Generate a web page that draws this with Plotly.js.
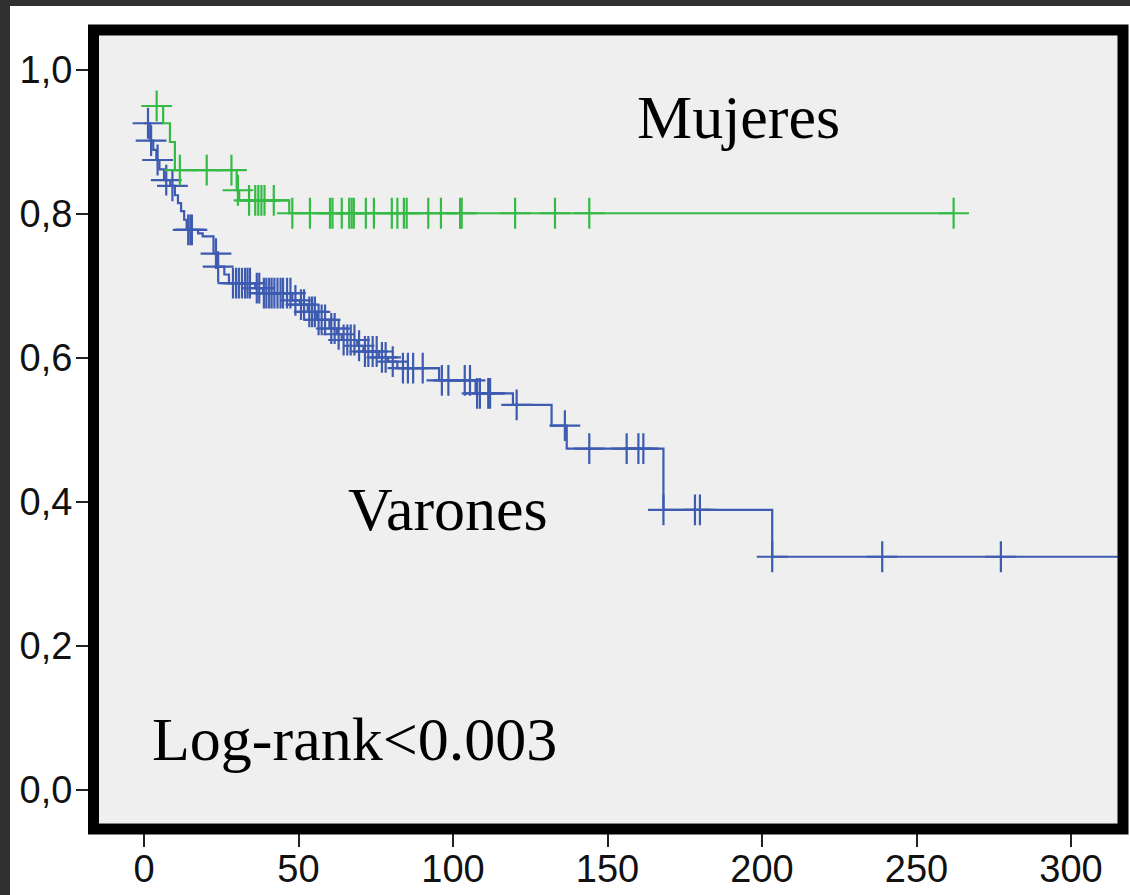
<!DOCTYPE html>
<html>
<head>
<meta charset="utf-8">
<script src="https://cdn.plot.ly/plotly-3.0.1.min.js"></script>
<style>
html,body{margin:0;padding:0;background:#fff;}
#chart{width:1130px;height:895px;}
</style>
</head>
<body>
<div id="chart"></div>
<script>
// ---- Data ----
// Varones (men): Kaplan-Meier step points
const varonesTimes = [0, 2, 3, 4, 5, 6.5, 8.5, 10, 11, 12, 13, 13.8, 17.5, 19, 22.5, 23.6, 26, 27.5, 36, 38.5, 48, 50.5, 53, 56, 60, 62.5, 64, 69, 71, 76, 79, 82, 95.5, 107.3, 119.4, 131.9, 136.8, 168.1, 203.3, 320];
const varonesSurv  = [0.926, 0.902, 0.889, 0.875, 0.862, 0.847, 0.839, 0.826, 0.815, 0.804, 0.792, 0.778, 0.773, 0.769, 0.745, 0.727, 0.716, 0.704, 0.697, 0.690, 0.680, 0.674, 0.664, 0.653, 0.641, 0.633, 0.625, 0.617, 0.609, 0.601, 0.595, 0.586, 0.569, 0.551, 0.535, 0.506, 0.474, 0.389, 0.324, 0.324];
// Varones censored times
const varonesCensored = [1.3, 2.3, 4.4, 7.2, 9.2, 14.3, 15.0, 15.5, 23.3, 24.0, 28.8, 29.8, 30.7, 31.7, 32.7, 33.5, 34.3, 36.5, 37.3, 38.8, 39.6, 40.5, 41.3, 42.2, 43.2, 44.2, 45.0, 46.3, 47.4, 49.0, 50.8, 51.8, 53.5, 54.4, 55.3, 56.5, 57.5, 58.6, 60.6, 61.7, 63.0, 64.6, 65.8, 66.9, 68.1, 69.6, 71.5, 72.6, 74.0, 75.3, 77.0, 78.2, 80.5, 83.8, 85.4, 87.1, 90.2, 96.4, 98.5, 103.8, 105.5, 107.8, 108.7, 111.4, 112.0, 120.6, 136.2, 144.1, 156.2, 160.0, 161.6, 168.1, 178.3, 179.9, 203.3, 238.9, 277.3];

// Mujeres (women): Kaplan-Meier step points
const mujeresTimes = [0, 6.2, 8.4, 10, 30, 30.8, 47, 262];
const mujeresSurv  = [0.95, 0.926, 0.90, 0.861, 0.833, 0.819, 0.801, 0.801];
// Mujeres censored times
const mujeresCensored = [4.1, 11.6, 20.3, 28.3, 30.4, 34, 36, 37, 38, 39, 42, 48, 53.7, 60.2, 61.0, 64.0, 66.4, 67.2, 67.9, 71.8, 74.4, 80.2, 82.0, 84.1, 85.0, 92.0, 96.1, 102.3, 102.8, 120.1, 133.0, 144.1, 262];

// Axis ticks
const xTickVals = [0, 50, 100, 150, 200, 250, 300];
const xTickText = ['0', '50', '100', '150', '200', '250', '300'];
const yTickVals = [0, 0.2, 0.4, 0.6, 0.8, 1.0];
const yTickText = ['0,0', '0,2', '0,4', '0,6', '0,8', '1,0'];

// Labels
const labelMujeres = 'Mujeres';
const labelVarones = 'Varones';
const labelLogRank = 'Log-rank<0.003';

// ---- helpers ----
function survAt(times, surv, t) {
  let s = surv[0];
  for (let i = 0; i < times.length; i++) { if (times[i] <= t) s = surv[i]; }
  return s;
}

const blue = '#3d5bb0';
const green = '#36ba46';

const traces = [
  {x: varonesTimes, y: varonesSurv, mode: 'lines', line: {shape: 'hv', color: blue, width: 2.2}, hoverinfo: 'skip'},
  {x: varonesCensored, y: varonesCensored.map(t => survAt(varonesTimes, varonesSurv, t)), mode: 'markers',
   marker: {symbol: 'cross-thin', size: 22, color: blue, line: {color: blue, width: 2.2}}, hoverinfo: 'skip'},
  {x: mujeresTimes, y: mujeresSurv, mode: 'lines', line: {shape: 'hv', color: green, width: 2.2}, hoverinfo: 'skip'},
  {x: mujeresCensored, y: mujeresCensored.map(t => survAt(mujeresTimes, mujeresSurv, t)), mode: 'markers',
   marker: {symbol: 'cross-thin', size: 22, color: green, line: {color: green, width: 2.2}}, hoverinfo: 'skip'}
];

// plot area: x 99..1118, y 36..823
const L = 99, R = 1118, T = 36, B = 823, W = 1130, H = 895;
const pw = R - L, ph = B - T;
const px = v => (v - L) / pw;
const py = v => (B - v) / ph;

const layout = {
  width: W, height: H,
  margin: {l: L, r: W - R, t: T, b: H - B, pad: 0},
  paper_bgcolor: '#ffffff',
  plot_bgcolor: '#efefef',
  showlegend: false,
  hovermode: false,
  font: {family: 'Liberation Sans, Arial, sans-serif', color: '#111'},
  xaxis: {
    range: [-14.56, 315.2], tickvals: xTickVals, ticktext: xTickText,
    showgrid: false, zeroline: false, showline: false,
    ticks: 'outside', ticklen: 23, tickwidth: 2, tickcolor: '#222',
    ticklabelstandoff: -11,
    tickfont: {size: 38, family: 'Liberation Sans, Arial, sans-serif', color: '#111'}
  },
  yaxis: {
    range: [-0.0458, 1.0472], tickvals: yTickVals, ticktext: yTickText,
    showgrid: false, zeroline: false, showline: false,
    ticks: 'outside', ticklen: 22, tickwidth: 2, tickcolor: '#222',
    ticklabelstandoff: -4,
    tickfont: {size: 38, family: 'Liberation Sans, Arial, sans-serif', color: '#111'}
  },
  shapes: [
    // black frame
    {type: 'rect', xref: 'paper', yref: 'paper', x0: px(93.5), x1: px(1123), y0: py(829), y1: py(30),
     line: {color: '#000', width: 11}, fillcolor: 'rgba(0,0,0,0)', layer: 'above'},
    // dark page borders
    {type: 'rect', xref: 'paper', yref: 'paper', x0: px(0), x1: px(10), y0: py(H), y1: py(0),
     line: {width: 0}, fillcolor: '#313131', layer: 'above'},
    {type: 'rect', xref: 'paper', yref: 'paper', x0: px(0), x1: px(W), y0: py(6), y1: py(0),
     line: {width: 0}, fillcolor: '#313131', layer: 'above'}
  ],
  annotations: [
    {x: 158.9, y: 0.935, xref: 'x', yref: 'y', text: labelMujeres, showarrow: false, xanchor: 'left', yanchor: 'middle',
     font: {family: 'Liberation Serif, Times New Roman, serif', size: 62, color: '#000'}},
    {x: 65.5, y: 0.390, xref: 'x', yref: 'y', text: labelVarones, showarrow: false, xanchor: 'left', yanchor: 'middle',
     font: {family: 'Liberation Serif, Times New Roman, serif', size: 62, color: '#000'}},
    {x: 1.94, y: 0.071, xref: 'x', yref: 'y', text: labelLogRank, showarrow: false, xanchor: 'left', yanchor: 'middle',
     font: {family: 'Liberation Serif, Times New Roman, serif', size: 62, color: '#000'}}
  ]
};

Plotly.newPlot('chart', traces, layout, {displayModeBar: false, staticPlot: true});
</script>
</body>
</html>
